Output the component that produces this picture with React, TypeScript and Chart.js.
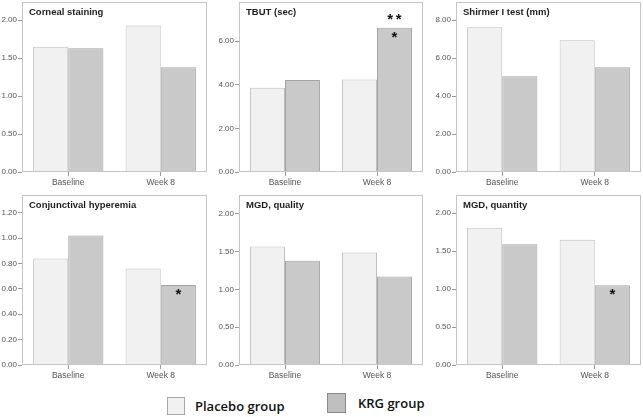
import React, { useEffect, useRef } from "react";
import { Chart, registerables } from "chart.js";

Chart.register(...registerables);

// ---------- data ----------
const categories = ["Baseline", "Week 8"];
const seriesNames = ["Placebo group", "KRG group"];

const cornealPlacebo = [1.65, 1.93];
const cornealKRG = [1.63, 1.38];

const tbutPlacebo = [3.86, 4.24];
const tbutKRG = [4.22, 6.62];

const schirmerPlacebo = [7.62, 6.93];
const schirmerKRG = [5.04, 5.51];

const hyperemiaPlacebo = [0.84, 0.76];
const hyperemiaKRG = [1.02, 0.63];

const mgdQualityPlacebo = [1.57, 1.49];
const mgdQualityKRG = [1.38, 1.17];

const mgdQuantityPlacebo = [1.81, 1.65];
const mgdQuantityKRG = [1.59, 1.05];

// significance marks on the KRG bars, per category
const tbutInnerMarks = ["", "*"];
const tbutOuterMarks = ["", "**"];
const hyperemiaInnerMarks = ["", "*"];
const mgdQuantityInnerMarks = ["", "*"];
const noMarks = ["", ""];

const panelTitles = [
  "Corneal staining",
  "TBUT (sec)",
  "Shirmer I test (mm)",
  "Conjunctival hyperemia",
  "MGD, quality",
  "MGD, quantity",
];
const yMaxes = [2.24, 7.8, 8.95, 1.34, 2.25, 2.24];
const ySteps = [0.5, 2, 2, 0.2, 0.5, 0.5];

// ---------- styles / layout ----------
const PLACEBO_FILL = "#f1f1f1";
const PLACEBO_BORDER = "#c0c0c0";
const KRG_FILL = "#c9c9c9";
const KRG_BORDER = "#a3a3a3";
const FRAME = "#c6c6c6";
const TICK_COLOR = "#9a9a9a";
const LABEL_COLOR = "#555555";
const SANS = '"Liberation Sans", Arial, sans-serif';

const Y_AXIS_W = 22;
const X_AXIS_H = 20;
const PAD_TOP = 10;
const MARK_STEP = 8.5;

type Box = { left: number; top: number; right: number; bottom: number };
const boxes: Box[] = [
  { left: 22, top: 2, right: 207, bottom: 172 },
  { left: 239, top: 2, right: 423, bottom: 172 },
  { left: 456, top: 2, right: 641, bottom: 172 },
  { left: 22, top: 195, right: 207, bottom: 365 },
  { left: 239, top: 195, right: 423, bottom: 365 },
  { left: 456, top: 195, right: 641, bottom: 365 },
];

const panelData = [
  [cornealPlacebo, cornealKRG, noMarks, noMarks],
  [tbutPlacebo, tbutKRG, tbutInnerMarks, tbutOuterMarks],
  [schirmerPlacebo, schirmerKRG, noMarks, noMarks],
  [hyperemiaPlacebo, hyperemiaKRG, hyperemiaInnerMarks, noMarks],
  [mgdQualityPlacebo, mgdQualityKRG, noMarks, noMarks],
  [mgdQuantityPlacebo, mgdQuantityKRG, mgdQuantityInnerMarks, noMarks],
];

function drawMark(ctx: CanvasRenderingContext2D, text: string, x: number, cy: number) {
  ctx.font = `bold 15px ${SANS}`;
  ctx.textAlign = "center";
  ctx.textBaseline = "alphabetic";
  ctx.fillStyle = "#111";
  const chars = text.split("");
  const m = ctx.measureText("*");
  const y = cy + (m.actualBoundingBoxAscent - m.actualBoundingBoxDescent) / 2;
  const x0 = x - ((chars.length - 1) * MARK_STEP) / 2;
  chars.forEach((c, i) => ctx.fillText(c, x0 + i * MARK_STEP, y));
}

function Panel({ idx }: { idx: number }) {
  const ref = useRef<HTMLCanvasElement>(null);
  const box = boxes[idx];
  const width = box.right - box.left + Y_AXIS_W + 1;
  const height = box.bottom - box.top + PAD_TOP + X_AXIS_H;

  useEffect(() => {
    const [placebo, krg, inner, outer] = panelData[idx] as any;
    const title = panelTitles[idx];
    const decor = {
      id: "decor" + idx,
      afterDatasetsDraw(chart: any) {
        const { ctx, chartArea: a } = chart;
        ctx.save();
        ctx.strokeStyle = FRAME;
        ctx.lineWidth = 1;
        const l = Math.round(a.left) + 0.5;
        const t = Math.round(a.top) + 0.5;
        const r = Math.round(a.right) - 0.5;
        const b = Math.round(a.bottom) - 0.5;
        ctx.strokeRect(l, t, r - l, b - t);
        ctx.font = `bold 9.5px ${SANS}`;
        ctx.fillStyle = "#1e1e1e";
        ctx.textAlign = "left";
        ctx.textBaseline = "alphabetic";
        ctx.fillText(title, a.left + 7, a.top + 12.5);
        const meta = chart.getDatasetMeta(1);
        meta.data.forEach((bar: any, i: number) => {
          if (inner[i]) drawMark(ctx, inner[i], bar.x, bar.y + 7);
          if (outer[i]) drawMark(ctx, outer[i], bar.x, bar.y - 11);
        });
        ctx.restore();
      },
    };
    const chart = new Chart(ref.current as HTMLCanvasElement, {
      type: "bar",
      data: {
        labels: categories,
        datasets: [
          {
            label: seriesNames[0],
            data: placebo,
            backgroundColor: PLACEBO_FILL,
            borderColor: PLACEBO_BORDER,
            borderWidth: 1,
          },
          {
            label: seriesNames[1],
            data: krg,
            backgroundColor: KRG_FILL,
            borderColor: KRG_BORDER,
            borderWidth: 1,
          },
        ],
      },
      options: {
        responsive: false,
        animation: false,
        devicePixelRatio: 1,
        layout: { padding: { top: PAD_TOP, right: 1, left: 0, bottom: 0 } },
        datasets: { bar: { categoryPercentage: 0.76, barPercentage: 1.0 } },
        plugins: { legend: { display: false }, tooltip: { enabled: false } },
        scales: {
          x: {
            offset: true,
            border: { display: false },
            grid: {
              offset: false,
              drawOnChartArea: false,
              drawTicks: true,
              tickLength: 4,
              color: TICK_COLOR,
            },
            ticks: { font: { family: SANS, size: 8.5 }, color: LABEL_COLOR, padding: 2 },
            afterFit: (s: any) => {
              s.height = X_AXIS_H;
            },
          },
          y: {
            min: 0,
            max: yMaxes[idx],
            border: { display: false },
            grid: {
              drawOnChartArea: false,
              drawTicks: true,
              tickLength: 4,
              color: TICK_COLOR,
            },
            ticks: {
              stepSize: ySteps[idx],
              includeBounds: false,
              font: { family: SANS, size: 8 },
              color: LABEL_COLOR,
              padding: 1,
              callback: (v: any) => Number(v).toFixed(2),
            },
            afterFit: (s: any) => {
              s.width = Y_AXIS_W;
            },
          },
        },
      } as any,
      plugins: [decor],
    });
    return () => chart.destroy();
  }, [idx]);

  return (
    <canvas
      ref={ref}
      width={width}
      height={height}
      style={{
        position: "absolute",
        left: box.left - Y_AXIS_W,
        top: box.top - PAD_TOP,
        width,
        height,
      }}
    />
  );
}

export default function App() {
  const legendText: React.CSSProperties = {
    position: "absolute",
    fontFamily: '"Open Sans", "Noto Sans", sans-serif',
    fontWeight: 600,
    fontSize: 13,
    lineHeight: "18px",
    color: "#111",
    whiteSpace: "nowrap",
  };
  return (
    <div
      style={{
        position: "absolute",
        left: 0,
        top: 0,
        width: 643,
        height: 417,
        background: "#fff",
        overflow: "hidden",
      }}
    >
      {panelTitles.map((_, i) => (
        <Panel key={i} idx={i} />
      ))}
      <div
        style={{
          position: "absolute",
          left: 167,
          top: 397,
          width: 18,
          height: 18,
          boxSizing: "border-box",
          background: "#f1f1f1",
          border: "1px solid #a8a8a8",
        }}
      />
      <div style={{ ...legendText, left: 195, top: 397 }}>{seriesNames[0]}</div>
      <div
        style={{
          position: "absolute",
          left: 327,
          top: 393,
          width: 19,
          height: 20,
          boxSizing: "border-box",
          background: "#bfbfbf",
          border: "1px solid #8a8a8a",
        }}
      />
      <div style={{ ...legendText, left: 358, top: 394 }}>{seriesNames[1]}</div>
    </div>
  );
}
